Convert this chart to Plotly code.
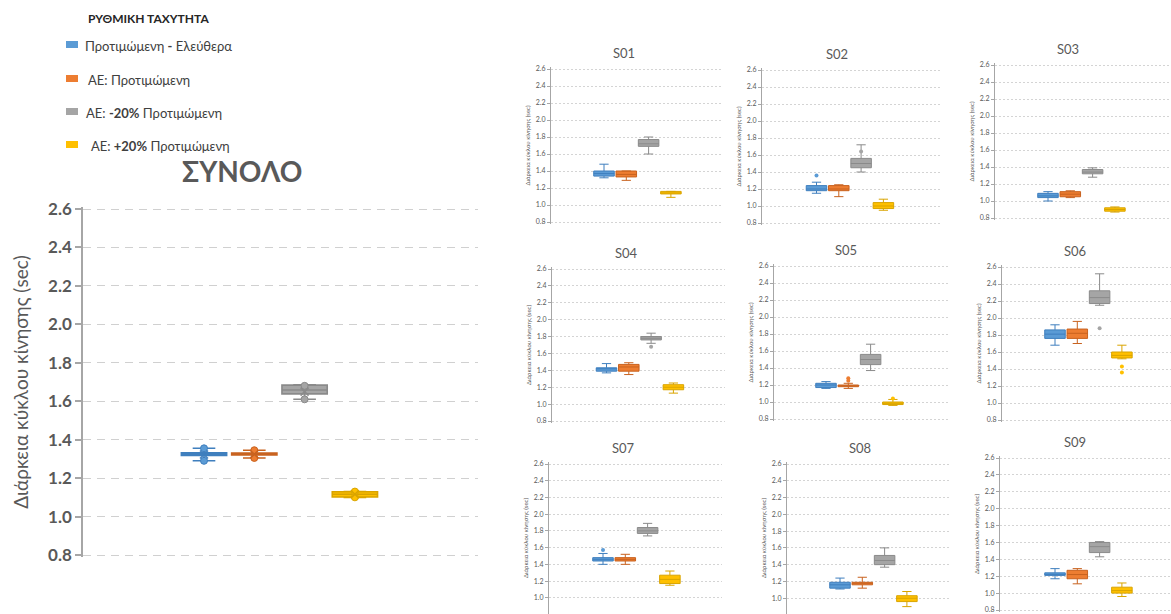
import plotly.graph_objects as go

# ---------------- data ----------------
SERIES = ["Προτιμώμενη <b>-</b> Ελεύθερα", "ΑΕ: Προτιμώμενη",
          "ΑΕ: <b>-20%</b> Προτιμώμενη", " ΑΕ: <b>+20%</b> Προτιμώμενη"]
LEGEND_TITLE = "ΡΥΘΜΙΚΗ ΤΑΧΥΤΗΤΑ"
MAIN_TITLE = "ΣΥΝΟΛΟ"
Y_TITLE = "Διάρκεια κύκλου κίνησης (sec)"
Y_TICKS = [0.8, 1.0, 1.2, 1.4, 1.6, 1.8, 2.0, 2.2, 2.4, 2.6]

# total (ΣΥΝΟΛΟ) box statistics, one value per series
total_q1 = [1.318, 1.320, 1.638, 1.102]
total_median = [1.325, 1.325, 1.658, 1.116]
total_q3 = [1.332, 1.330, 1.684, 1.129]
total_low = [1.290, 1.305, 1.610, 1.100]
total_high = [1.355, 1.345, 1.685, 1.130]
total_mean = [1.323, 1.324, 1.650, 1.116]
total_points = [[1.355, 1.290], [1.345, 1.305], [1.680, 1.610], [1.130, 1.100]]

# per subject panels
PANELS = ["S01", "S02", "S03", "S04", "S05", "S06", "S07", "S08", "S09"]
panel_q1 = [[1.34, 1.33, 1.69, 1.13], [1.18, 1.18, 1.45, 0.97], [1.04, 1.05, 1.32, 0.88],
            [1.39, 1.39, 1.76, 1.17], [1.17, 1.18, 1.44, 0.97], [1.76, 1.76, 2.17, 1.53],
            [1.44, 1.44, 1.77, 1.17], [1.12, 1.16, 1.40, 0.96], [1.21, 1.17, 1.48, 1.00]]
panel_median = [[1.37, 1.36, 1.72, 1.14], [1.20, 1.20, 1.50, 1.00], [1.06, 1.08, 1.34, 0.90],
                [1.42, 1.44, 1.78, 1.20], [1.20, 1.19, 1.50, 0.985], [1.81, 1.82, 2.24, 1.56],
                [1.46, 1.46, 1.80, 1.22], [1.16, 1.18, 1.45, 1.00], [1.22, 1.22, 1.55, 1.03]]
panel_q3 = [[1.40, 1.40, 1.77, 1.16], [1.24, 1.24, 1.56, 1.04], [1.09, 1.11, 1.37, 0.92],
            [1.43, 1.47, 1.80, 1.23], [1.22, 1.20, 1.56, 1.00], [1.86, 1.87, 2.32, 1.60],
            [1.48, 1.48, 1.84, 1.27], [1.19, 1.19, 1.51, 1.03], [1.24, 1.27, 1.60, 1.07]]
panel_low = [[1.32, 1.29, 1.60, 1.09], [1.15, 1.11, 1.40, 0.95], [1.00, 1.04, 1.28, 0.87],
             [1.37, 1.35, 1.72, 1.13], [1.16, 1.16, 1.37, 0.96], [1.68, 1.70, 2.15, 1.52],
             [1.40, 1.40, 1.74, 1.15], [1.11, 1.12, 1.37, 0.90], [1.17, 1.11, 1.43, 0.96]]
panel_high = [[1.48, 1.40, 1.80, 1.16], [1.28, 1.25, 1.72, 1.08], [1.11, 1.12, 1.39, 0.93],
              [1.48, 1.49, 1.84, 1.25], [1.24, 1.22, 1.68, 1.03], [1.92, 1.96, 2.52, 1.68],
              [1.53, 1.52, 1.89, 1.32], [1.24, 1.25, 1.60, 1.08], [1.29, 1.29, 1.61, 1.12]]
panel_outliers = [[[], [], [], []], [[1.36], [], [1.64], []], [[], [], [], []],
                  [[], [], [1.68], []], [[], [1.28, 1.25], [], [1.04]], [[], [], [1.88], [1.43, 1.36]],
                  [[1.57], [], [], []], [[], [], [], []], [[], [], [], []]]

# ---------------- style / layout ----------------
COLORS = ["#5B9BD5", "#ED7D31", "#A5A5A5", "#FFC000"]
EDGES = ["#3F7FBE", "#C8621F", "#8A8A8A", "#D9A400"]
TXT = "#595959"
FONT = "Lato"
W, H = 1171, 614

# panel geometry in px: axis left, right edge, y of 2.6, y of 0.8, centre of first box
GEOM = [(551, 723, 69, 222, 604), (762, 940, 70, 223, 816.5), (995, 1171, 65, 218, 1048),
        (552, 725, 269, 421, 606.5), (774, 950, 266, 419, 826), (1002, 1171, 267, 420, 1055),
        (549, 722, 464, 614.5, 603), (787, 950, 464, 615, 840), (1000, 1171, 458, 610, 1055)]
PANEL_STEP = 22.3  # px between boxes in a panel
MAIN_GEOM = (83, 478, 209, 555, 204)
MAIN_STEP = 50.3
LEGEND_ROWS = [45, 79, 112, 145]       # px centre of legend rows
LEGEND_TEXT_X = [83, 86, 84, 86]


def axes_for(geom, step):
    left, right, ytop, ybot, c0 = geom
    xr = [-(c0 - left) / step, (right - c0) / step]
    ppu = (ybot - ytop) / 1.8
    top_px = ytop - 2
    bot_px = min(ybot + 2, H)
    yr = [0.8 - (bot_px - ybot) / ppu, 2.6 + (ytop - top_px) / ppu]
    xd = [left / W, min(right / W, 1)]
    yd = [max(1 - bot_px / H, 0), 1 - top_px / H]
    return xr, xd, yr, yd


fig = go.Figure()
layout = dict()

# main chart
xr, xd, yr, yd = axes_for(MAIN_GEOM, MAIN_STEP)
for i in range(4):
    fig.add_trace(go.Box(
        x=[i], q1=[total_q1[i]], median=[total_median[i]], q3=[total_q3[i]],
        lowerfence=[total_low[i]], upperfence=[total_high[i]],
        width=0.9, whiskerwidth=0.5, fillcolor=COLORS[i],
        line=dict(color=EDGES[i], width=1.6), boxpoints=False,
        name=SERIES[i], legendgroup=str(i), showlegend=False,
        hoverinfo="skip", xaxis="x", yaxis="y"))
    fig.add_trace(go.Scatter(
        x=[i] * len(total_points[i]), y=total_points[i], mode="markers",
        marker=dict(symbol="circle", size=7, color=COLORS[i], line=dict(color=EDGES[i], width=1)),
        showlegend=False, hoverinfo="skip", xaxis="x", yaxis="y"))
    fig.add_trace(go.Scatter(
        x=[i], y=[total_mean[i]], mode="markers",
        marker=dict(symbol="x-thin", size=8, line=dict(color=EDGES[i], width=1.5)),
        showlegend=False, hoverinfo="skip", xaxis="x", yaxis="y"))

layout["xaxis"] = dict(domain=xd, range=xr, visible=False, fixedrange=True, automargin=False)
layout["yaxis"] = dict(
    domain=yd, range=yr, tickvals=Y_TICKS, tickformat=".1f", automargin=False,
    showgrid=True, gridcolor="#D0D0D0", griddash="8px,6px", gridwidth=1.3,
    showline=True, linecolor="#A6A6A6", linewidth=1.5,
    ticks="outside", ticklen=6, tickcolor="#A6A6A6", tickwidth=1.5,
    tickfont=dict(size=17, color=TXT, family=FONT, weight="bold"), zeroline=False,
    title=dict(text=Y_TITLE, font=dict(size=19, color=TXT, family=FONT), standoff=14),
    anchor="x")

annotations = [dict(text=f"<b>{MAIN_TITLE}</b>", x=242 / W, y=1 - 171 / H, xref="paper", yref="paper",
                    xanchor="center", yanchor="middle",
                    showarrow=False, font=dict(size=28, color=TXT, family=FONT))]
shapes = []

# manual legend
annotations.append(dict(text=f"<b>{LEGEND_TITLE}</b>", x=148 / W, y=1 - 18 / H,
                        xref="paper", yref="paper", xanchor="center", yanchor="middle",
                        showarrow=False, font=dict(size=12, color="#262626", family=FONT)))
for i in range(4):
    yc = LEGEND_ROWS[i]
    shapes.append(dict(type="rect", xref="paper", yref="paper",
                       x0=66 / W, x1=78 / W, y0=1 - (yc + 3) / H, y1=1 - (yc - 4) / H,
                       fillcolor=COLORS[i], line=dict(width=0)))
    annotations.append(dict(text=SERIES[i], x=LEGEND_TEXT_X[i] / W, y=1 - (yc + 1) / H,
                            xref="paper", yref="paper", xanchor="left", yanchor="middle",
                            showarrow=False, font=dict(size=13, color="#404040", family=FONT)))

# panels
for p, name in enumerate(PANELS):
    k = p + 2
    xa, ya = f"x{k}", f"y{k}"
    xr, xd, yr, yd = axes_for(GEOM[p], PANEL_STEP)
    for i in range(4):
        fig.add_trace(go.Box(
            x=[i], q1=[panel_q1[p][i]], median=[panel_median[p][i]], q3=[panel_q3[p][i]],
            lowerfence=[panel_low[p][i]], upperfence=[panel_high[p][i]],
            width=0.92, whiskerwidth=0.45, fillcolor=COLORS[i],
            line=dict(color=EDGES[i], width=1), boxpoints=False,
            name=SERIES[i], legendgroup=str(i), showlegend=False,
            hoverinfo="skip", xaxis=xa, yaxis=ya))
        if panel_outliers[p][i]:
            fig.add_trace(go.Scatter(
                x=[i] * len(panel_outliers[p][i]), y=panel_outliers[p][i], mode="markers",
                marker=dict(symbol="circle", size=4, color=COLORS[i]),
                showlegend=False, hoverinfo="skip", xaxis=xa, yaxis=ya))
    layout[f"xaxis{k}"] = dict(domain=xd, range=xr, visible=False, fixedrange=True,
                               anchor=ya, automargin=False)
    layout[f"yaxis{k}"] = dict(
        domain=yd, range=yr, tickvals=Y_TICKS, tickformat=".1f", automargin=False,
        showgrid=True, gridcolor="#D4D4D4", griddash="2px,2px", gridwidth=1,
        showline=True, linecolor="#A6A6A6", linewidth=1,
        ticks="outside", ticklen=3, tickcolor="#A6A6A6",
        tickfont=dict(size=7, color=TXT, family=FONT), zeroline=False,
        title=dict(text=Y_TITLE, font=dict(size=6, color=TXT, family=FONT), standoff=4),
        anchor=xa)
    left, right, ytop, ybot, c0 = GEOM[p]
    annotations.append(dict(text=name, x=(c0 + 1.5 * PANEL_STEP - 13) / W, y=1 - (ytop - 16) / H,
                            xref="paper", yref="paper", xanchor="center", yanchor="middle",
                            showarrow=False, font=dict(size=13, color=TXT, family=FONT)))

fig.update_layout(
    width=W, height=H, margin=dict(l=0, r=0, t=0, b=0, autoexpand=False),
    paper_bgcolor="white", plot_bgcolor="white",
    font=dict(family=FONT, color=TXT),
    annotations=annotations, shapes=shapes,
    showlegend=False,
    **layout)

fig.write_html("out.html")
